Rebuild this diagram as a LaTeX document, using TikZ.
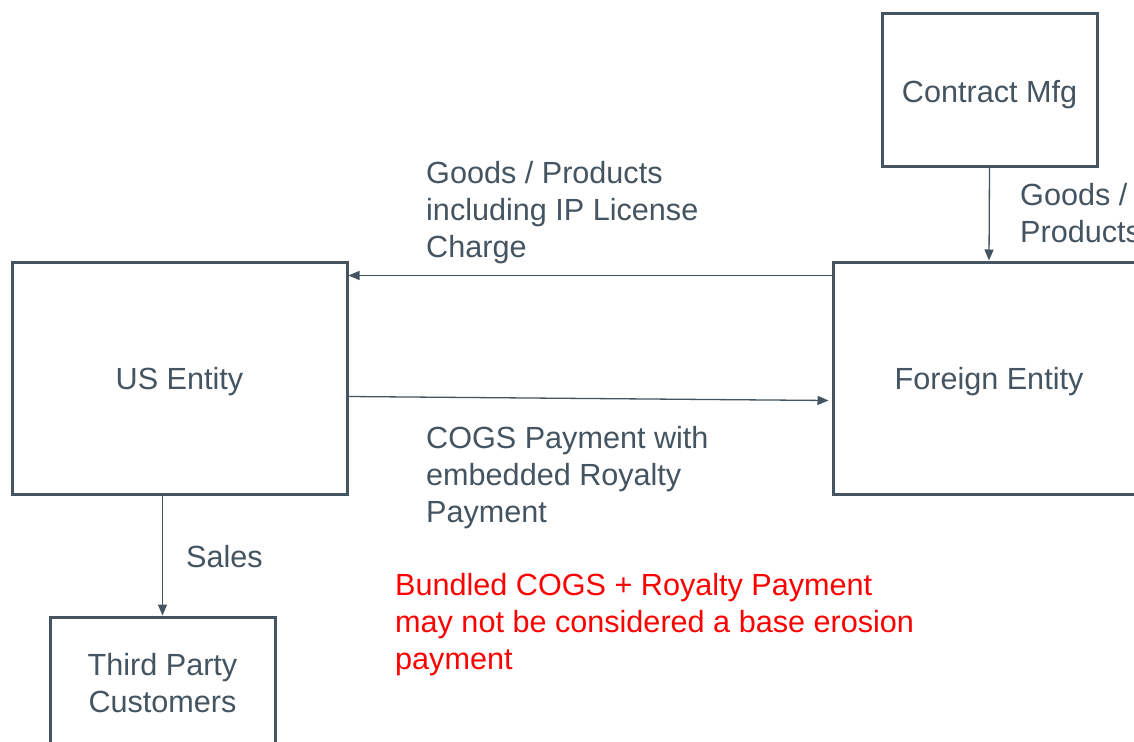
\documentclass[tikz,border=0pt]{standalone}
\usepackage{fontspec}
\setmainfont{Liberation Sans}
\usetikzlibrary{arrows.meta}
\definecolor{slate}{RGB}{68,84,96}
\definecolor{alertred}{RGB}{255,0,0}
\tikzset{
  txt/.style={font=\fontsize{30.6}{37}\selectfont},
  box/.style={draw=slate, line width=3pt, inner sep=0pt, text=slate, align=center, txt},
  boxtext/.style={text=slate, inner sep=0pt, txt},
  conn/.style={draw=slate, line width=1.3pt, -{Triangle[length=11pt,width=9pt]}},
  lbl/.style={text=slate, anchor=west, align=left, inner sep=0pt, txt},
  note/.style={text=alertred, anchor=west, align=left, inner sep=0pt, txt}
}
\begin{document}
\begin{tikzpicture}[x=1pt,y=-1pt]
\useasboundingbox (0,0) rectangle (1134,741);
\clip (0,0) rectangle (1134,741);
\fill[white] (0,0) rectangle (1134,741);
\node[box, minimum width=335pt, minimum height=232pt,
  label={[boxtext,yshift=-4pt]center:US Entity}] (us) at (179.5,378) {};
\node[box, minimum width=312pt, minimum height=232pt,
  label={[boxtext,yshift=-4pt]center:Foreign Entity}] (fe) at (989,378) {};
\node[box, minimum width=215pt, minimum height=152pt,
  label={[boxtext,yshift=-5pt]center:Contract Mfg}] (cm) at (989.5,90) {};
\node[box, minimum width=225pt, minimum height=132pt] (tp) at (162.5,683) {Third Party\\Customers};
\draw[conn] (cm.south) -- (fe.north);
\draw[conn] ([yshift=-15pt]fe.north west) -- ([yshift=-15pt]us.north east);
\draw[conn] ([yshift=-136pt]us.north east) -- ([xshift=-3pt,yshift=-140pt]fe.north west);
\draw[conn] (us.south -| tp.north) -- (tp.north);
\node[lbl] (l1) at (426,213) {Goods / Products\\including IP License\\Charge};
\node[lbl] (l2) at (1020,213) {Goods /\\Products};
\node[lbl] (l3) at (426,478) {COGS Payment with\\embedded Royalty\\Payment};
\node[lbl] (l4) at (186,557) {Sales};
\node[note] (n1) at (395,625) {Bundled COGS + Royalty Payment\\may not be considered a base erosion\\payment};
\end{tikzpicture}
\end{document}
